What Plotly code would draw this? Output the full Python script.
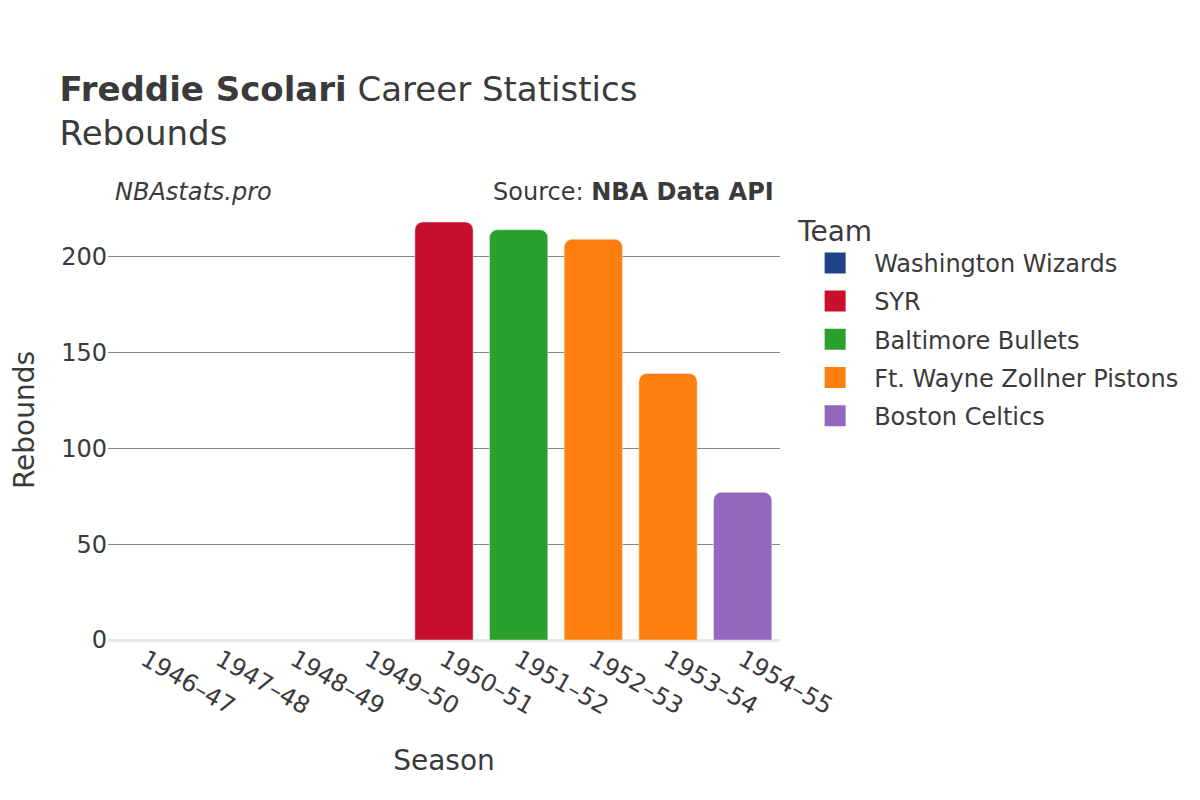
import plotly.graph_objects as go

seasons = ["1946–47", "1947–48", "1948–49", "1949–50", "1950–51",
           "1951–52", "1952–53", "1953–54", "1954–55"]
teams = ["Washington Wizards", "Washington Wizards", "Washington Wizards",
         "Washington Wizards", "SYR", "Baltimore Bullets",
         "Ft. Wayne Zollner Pistons", "Ft. Wayne Zollner Pistons", "Boston Celtics"]
rebounds = [0, 0, 0, 0, 218, 214, 209, 139, 77]

team_order = ["Washington Wizards", "SYR", "Baltimore Bullets",
              "Ft. Wayne Zollner Pistons", "Boston Celtics"]
team_colors = {
    "Washington Wizards": "#1d428a",
    "SYR": "#c8102e",
    "Baltimore Bullets": "#2ca02c",
    "Ft. Wayne Zollner Pistons": "#ff7f0e",
    "Boston Celtics": "#9467bd",
}

FONT = "DejaVu Sans"
TEXT = "#3a3a3a"

fig = go.Figure()
for team in team_order:
    xs = [s for s, t in zip(seasons, teams) if t == team]
    ys = [r for r, t in zip(rebounds, teams) if t == team]
    fig.add_trace(go.Bar(
        x=xs, y=ys, name=team, legendgroup=team, showlegend=False,
        marker=dict(color=team_colors[team]),
    ))
    # legend swatch: bigger square than the default bar icon
    fig.add_trace(go.Scatter(
        x=[None], y=[None], name=team, legendgroup=team, mode="markers",
        marker=dict(symbol="square", size=16, color=team_colors[team],
                    line=dict(width=5, color=team_colors[team])),
        hoverinfo="skip",
    ))

fig.update_layout(
    width=1200, height=800,
    barmode="relative",
    bargap=0.22,
    barcornerradius=8,
    paper_bgcolor="white",
    plot_bgcolor="white",
    font=dict(family=FONT, color=TEXT, size=24),
    margin=dict(l=100, r=428, t=192, b=168),
    title=dict(
        text="<b>Freddie Scolari</b> Career Statistics<br>Rebounds",
        font=dict(size=34, family=FONT, color=TEXT),
        x=0.043, xanchor="left", xref="container",
        y=0.884, yanchor="middle", yref="container",
    ),
    legend=dict(
        title=dict(text="Team", font=dict(size=28)),
        font=dict(size=24),
        x=1.024, xanchor="left", y=0.99, yanchor="top",
        traceorder="grouped", tracegroupgap=4,
        itemsizing="trace", itemwidth=68,
    ),
    annotations=[
        dict(text="<i>NBAstats.pro</i>", xref="paper", yref="paper",
             x=0.007, y=1.018, xanchor="left", yanchor="middle",
             showarrow=False, font=dict(size=24, color=TEXT)),
        dict(text="Source: <b>NBA Data API</b>", xref="paper", yref="paper",
             x=0.994, y=1.018, xanchor="right", yanchor="middle",
             showarrow=False, font=dict(size=24, color=TEXT)),
    ],
)
fig.update_xaxes(
    title=dict(text="Season", font=dict(size=28), standoff=30),
    categoryorder="array", categoryarray=seasons,
    tickangle=30, tickfont=dict(size=24),
    showgrid=False, automargin=False,
)
fig.update_yaxes(
    title=dict(text="Rebounds", font=dict(size=28), standoff=32),
    tickfont=dict(size=24),
    gridcolor="#8a8a8a", gridwidth=1,
    zeroline=True, zerolinecolor="#e8e8e8", zerolinewidth=3,
    tickvals=[0, 50, 100, 150, 200],
    automargin=False,
)

fig.write_html("out.html")
